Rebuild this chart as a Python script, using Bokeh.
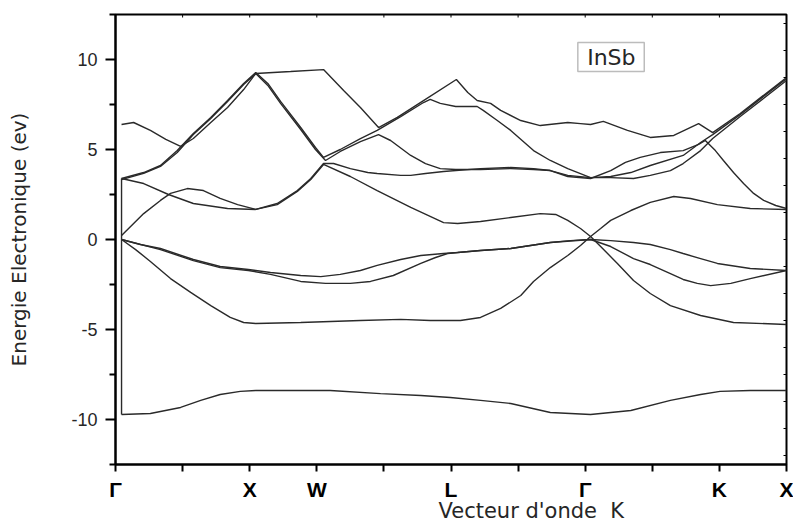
import math
from bokeh.plotting import figure
from bokeh.models import LinearAxis, FixedTicker, Title, BoxAnnotation, Label, Range1d
from bokeh.embed import file_html
from bokeh.resources import INLINE

# ---- high-symmetry path (x positions of the labelled ticks) ----
kpath_ticks = [0, 2, 3, 5, 7, 9, 10]
kpath_labels = ["Γ", "X", "W", "L", "Γ", "K", "X"]
kpath_minor = [1, 4, 6, 8]
all_k_ticks = [0, 1, 2, 3, 4, 5, 6, 7, 8, 9, 10]
energy_ticks = [-10, -5, 0, 5, 10]
energy_labels = ["-10", "-5", "0", "5", "10"]
energy_minor = [-12.5, -7.5, -2.5, 2.5, 7.5, 12.5]
right_ticks = [-12.0, -10.5, -9.0, -7.5, -6.0, -4.5, -3.0, -1.5, 0.0, 1.5, 3.0, 4.5, 6.0, 7.5, 9.0, 10.5, 12.0]

# ---- bands (k along path, energy in eV) ----
band1_k = [0.09,0.52,0.97,1.27,1.56,1.86,2.09,2.61,3.20,3.95,4.55,4.99,5.44,5.89,6.48,7.08,7.68,8.27,8.72,9.01,9.46,10.0]
band1_e = [-9.72,-9.67,-9.33,-8.94,-8.61,-8.44,-8.39,-8.39,-8.39,-8.56,-8.67,-8.78,-8.94,-9.11,-9.61,-9.72,-9.50,-8.94,-8.61,-8.44,-8.39,-8.39]

band2_k = [0.09,0.30,0.52,0.82,1.12,1.42,1.71,1.91,2.09,2.76,3.65,4.25,4.69,5.14,5.44,5.74,6.04,6.23,6.48,6.74,6.93,7.08,7.23,7.38,7.68,7.97,8.32,8.57,8.97,9.46,10.0]
band2_e = [0,-0.56,-1.22,-2.17,-2.94,-3.67,-4.33,-4.61,-4.67,-4.61,-4.50,-4.44,-4.50,-4.50,-4.33,-3.83,-3.11,-2.33,-1.56,-0.89,-0.33,0.17,0.61,1.06,1.61,2.06,2.39,2.28,1.94,1.72,1.67]

band3_k = [0.09,0.37,0.67,1.16,1.56,1.98,2.31,2.76,3.06,3.35,3.65,3.90,4.25,4.55,4.89,5.10,5.44,5.89,6.48,6.78,7.08,7.38,7.72,7.97,8.27,8.46,8.72,8.97,9.46,10.0]
band3_e = [0,-0.28,-0.50,-1.11,-1.50,-1.67,-1.83,-2.00,-2.06,-1.94,-1.72,-1.44,-1.11,-0.89,-0.78,-0.72,-0.61,-0.50,-0.17,-0.06,0,-0.06,-0.17,-0.28,-0.56,-0.78,-1.06,-1.33,-1.61,-1.72]

band4_k = [0.09,0.67,1.16,1.56,1.98,2.31,2.76,3.13,3.50,3.80,4.14,4.55,4.77,4.95,5.10,5.44,5.89,6.48,7.08,7.38,7.72,7.97,8.27,8.46,8.67,8.87,9.17,9.46,10.0]
band4_e = [0,-0.56,-1.17,-1.56,-1.72,-1.94,-2.33,-2.44,-2.44,-2.33,-2.00,-1.33,-1.00,-0.78,-0.72,-0.61,-0.50,-0.17,0,-0.39,-1.06,-1.39,-1.89,-2.22,-2.44,-2.56,-2.44,-2.17,-1.72]

band5_k = [0.09,0.42,0.67,0.82,1.07,1.31,1.56,1.82,2.09,2.41,2.71,2.91,3.10,3.50,3.90,4.40,4.89,5.10,5.44,5.89,6.33,6.56,6.74,6.93,7.08,7.23,7.48,7.72,7.97,8.27,8.72,9.21,10.0]
band5_e = [0.22,1.44,2.17,2.56,2.83,2.72,2.28,1.94,1.67,1.94,2.67,3.33,4.17,3.50,2.72,1.78,0.94,0.89,1.00,1.22,1.44,1.39,1.06,0.61,0.17,-0.39,-1.33,-2.28,-3.00,-3.67,-4.22,-4.61,-4.72]

band6_k = [0.09,0.42,0.79,1.16,1.67,2.09,2.41,2.71,2.91,3.10,3.25,3.50,3.76,3.90,4.25,4.40,4.62,4.89,5.44,5.89,6.23,6.48,6.74,7.08,7.38,7.72,7.97,8.27,8.46,8.72,8.90,9.31,10.0]
band6_e = [3.39,3.11,2.50,2.00,1.72,1.67,2.00,2.72,3.39,4.22,4.22,3.94,3.72,3.67,3.56,3.56,3.67,3.78,3.94,4.00,3.94,3.83,3.56,3.44,3.44,3.39,3.56,3.83,4.22,4.94,5.61,6.83,8.83]

band7_k = [0.09,0.42,0.67,0.92,1.16,1.42,1.67,1.91,2.09,2.27,2.46,2.76,2.98,3.13,3.35,3.65,3.92,4.10,4.40,4.62,4.84,5.07,5.44,5.89,6.23,6.48,6.74,7.08,7.38,7.60,7.82,8.12,8.46,8.69,8.79,8.94,9.06,9.21,9.36,9.51,9.66,9.84,10.0]
band7_e = [3.33,3.67,4.06,4.83,5.83,6.72,7.67,8.61,9.22,8.56,7.56,6.11,5.00,4.39,4.89,5.44,5.83,5.50,4.67,4.22,3.94,3.89,3.89,3.94,3.89,3.83,3.50,3.39,3.83,4.28,4.56,4.83,4.94,5.28,5.50,4.94,4.39,3.72,3.11,2.56,2.17,1.89,1.72]

band8_k = [0.09,0.42,0.67,0.92,1.16,1.42,1.67,1.91,2.09,2.27,2.46,2.76,2.98,3.10,3.35,3.65,3.90,4.25,4.59,4.69,4.84,5.07,5.39,5.48,5.69,5.89,6.23,6.48,6.74,7.08,7.38,7.68,7.97,8.46,8.72,8.90,9.31,10.0]
band8_e = [3.39,3.72,4.11,4.94,5.89,6.78,7.72,8.67,9.28,8.67,7.67,6.22,5.11,4.56,5.00,5.61,6.06,6.83,7.61,7.78,7.56,7.39,7.39,7.17,6.61,6.06,4.94,4.39,3.94,3.44,3.50,3.72,4.11,4.67,5.39,5.83,6.94,8.94]

band9_k = [0.09,0.27,0.52,0.75,0.97,1.16,1.42,1.67,1.91,2.09,2.61,3.10,3.40,3.65,3.92,4.20,4.59,5.08,5.25,5.39,5.59,5.74,6.04,6.33,6.74,6.93,7.08,7.27,7.63,7.97,8.32,8.69,8.90,9.31,10.0]
band9_e = [6.39,6.50,6.06,5.56,5.17,5.61,6.50,7.33,8.33,9.22,9.33,9.44,8.28,7.33,6.22,6.78,7.72,8.89,8.17,7.72,7.56,7.17,6.61,6.33,6.50,6.44,6.39,6.56,6.06,5.67,5.78,6.44,5.94,7.00,9.00]

# vertical connector drawn at the first Gamma point
link_k = [0.09, 0.09]
link_e = [3.39, -9.72]

bands = [
    (band1_k, band1_e), (band2_k, band2_e), (band3_k, band3_e),
    (band4_k, band4_e), (band5_k, band5_e), (band6_k, band6_e),
    (band7_k, band7_e), (band8_k, band8_e), (band9_k, band9_e),
    (link_k, link_e),
]

LINE = "#2a2a2a"
TXT = "#262626"

p = figure(width=793, height=522, output_backend="svg", toolbar_location=None,
           x_range=Range1d(0, 10), y_range=Range1d(-12.5, 12.5),
           min_border_left=115, min_border_right=7, min_border_top=14, min_border_bottom=58,
           x_axis_type=None, y_axis_type=None)
p.grid.visible = False
p.background_fill_color = "white"
p.border_fill_color = "white"
p.outline_line_color = "black"
p.outline_line_width = 2

for k, e in bands:
    p.line(k, e, line_color=LINE, line_width=1.4)

# mirrored inner ticks on top and right edges (half of each dash is clipped by the frame)
p.scatter(x=all_k_ticks, y=[12.5] * len(all_k_ticks), marker="dash", angle=math.pi / 2,
          size=6, line_color="black", line_width=1)
p.scatter(x=[10] * len(right_ticks), y=right_ticks, marker="dash",
          size=6, line_color="black", line_width=1)

# title below the axis; a negative standoff lets it sit in the unused descender room
try:
    x_title = Title(text="Vecteur d'onde\u00a0 K", align="left", offset=323, standoff=-14,
                    text_font="DejaVu Sans", text_font_size="21px", text_font_style="normal",
                    text_color=TXT)
    tick_standoff = 6
except ValueError:
    x_title = Title(text="Vecteur d'onde\u00a0 K", align="left", offset=323, standoff=0,
                    text_font="DejaVu Sans", text_font_size="19px", text_font_style="normal",
                    text_color=TXT)
    tick_standoff = 2

# bottom axis: path labels
xb = LinearAxis(ticker=FixedTicker(ticks=kpath_ticks, minor_ticks=kpath_minor),
                major_label_overrides=dict(zip(kpath_ticks, kpath_labels)),
                major_tick_out=7, major_tick_in=0, minor_tick_out=7, minor_tick_in=0,
                axis_line_width=2, major_tick_line_width=2, minor_tick_line_width=2,
                major_label_standoff=tick_standoff, major_label_text_font="Liberation Sans",
                major_label_text_font_style="bold", major_label_text_font_size="21px",
                major_label_text_color="black")
p.add_layout(xb, "below")
p.add_layout(x_title, "below")

# left axis
yl = LinearAxis(ticker=FixedTicker(ticks=energy_ticks, minor_ticks=energy_minor),
                major_label_overrides=dict(zip(energy_ticks, energy_labels)),
                major_tick_out=10, major_tick_in=0, minor_tick_out=6, minor_tick_in=0,
                major_tick_line_width=2, minor_tick_line_width=2, axis_line_width=2,
                major_label_standoff=8, major_label_text_font="Liberation Sans",
                major_label_text_font_size="18px", major_label_text_color=TXT,
                axis_label="Energie Electronique (ev)", axis_label_standoff=37,
                axis_label_text_font="DejaVu Sans", axis_label_text_font_size="20px",
                axis_label_text_font_style="normal", axis_label_text_color=TXT)
p.add_layout(yl, "left")

# material tag
p.add_layout(BoxAnnotation(left=6.89, right=7.88, bottom=9.33, top=10.94,
                           fill_alpha=0, line_color="#222222", line_width=1.5))
p.add_layout(Label(x=7.39, y=10.11, text="InSb", text_align="center", text_baseline="middle",
                   text_font="DejaVu Sans", text_font_size="22px", text_color=TXT))

open("out.html", "w").write(file_html(p, INLINE))
